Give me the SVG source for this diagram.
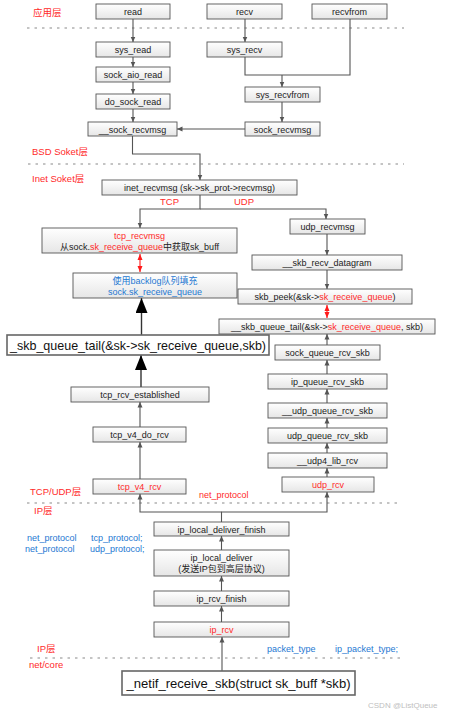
<svg xmlns="http://www.w3.org/2000/svg" width="450" height="717" viewBox="0 0 450 717">
<defs>
<linearGradient id="g" x1="0" y1="0" x2="0" y2="1">
<stop offset="0" stop-color="#ffffff"/>
<stop offset="1" stop-color="#e6e6e6"/>
</linearGradient>
<marker id="a" markerUnits="userSpaceOnUse" markerWidth="6" markerHeight="6" refX="5.5" refY="3" orient="auto"><path d="M0,0.5 L5.5,3 L0,5.5 z" fill="#555"/></marker>
<marker id="r" markerUnits="userSpaceOnUse" markerWidth="7" markerHeight="6" refX="6" refY="3" orient="auto-start-reverse"><path d="M0,0.5 L6,3 L0,5.5 z" fill="#ff1a1a"/></marker>
<marker id="b" markerUnits="userSpaceOnUse" markerWidth="16" markerHeight="12" refX="15" refY="6" orient="auto"><path d="M0,0 L15,6 L0,12 z" fill="#000"/></marker>
</defs>
<style>
.box{fill:url(#g);stroke:#555;stroke-width:0.9}
.big{fill:#fff;stroke:#666;stroke-width:1.6}
.t{font-family:"Liberation Sans","Noto Sans CJK SC",Arial,sans-serif;font-size:9px;fill:#222;text-anchor:middle}
.bt{font-family:"Liberation Sans",Arial,sans-serif;font-size:13px;fill:#111;text-anchor:middle}
.l{font-family:"Liberation Sans","Noto Sans CJK SC",Arial,sans-serif;font-size:9.5px;fill:#ff2a2a}
.n{font-family:"Liberation Sans",Arial,sans-serif;font-size:9px}
.red{fill:#ff2a2a}
.blue{fill:#1e78d2}
.c{fill:none;stroke:#555;stroke-width:1.1}
.dash{fill:none;stroke:#8a8a8a;stroke-width:1.2;stroke-dasharray:2.5 5}
</style>

<g id="layers">
<path class="dash" d="M27,28 H404"/>
<path class="dash" d="M28,164 H404"/>
<path class="dash" d="M27,503 H398"/>
<path class="dash" d="M30,658 H405"/>
<text class="l" x="33" y="16">应用层</text>
<text class="l" x="32" y="155">BSD Soket层</text>
<text class="l" x="32" y="182">Inet Soket层</text>
<text class="l" x="160" y="205">TCP</text>
<text class="l" x="234" y="205">UDP</text>
<text class="l" x="30" y="495">TCP/UDP层</text>
<text class="n red" x="199" y="497.5">net_protocol</text>
<text class="l" x="34" y="514">IP层</text>
<text class="n blue" x="27" y="541">net_protocol</text>
<text class="n blue" x="91" y="541">tcp_protocol;</text>
<text class="n blue" x="25" y="552">net_protocol</text>
<text class="n blue" x="90" y="552">udp_protocol;</text>
<text class="l" x="37" y="652">IP层</text>
<text class="n blue" x="267" y="652">packet_type</text>
<text class="n blue" x="335" y="652">ip_packet_type;</text>
<text class="l" x="29" y="668">net/core</text>
<text x="368" y="708" style="font-family:'Liberation Sans',Arial,sans-serif;font-size:8px;fill:#c0c0c0">CSDN @ListQueue</text>
</g>

<g id="connectors">
<path class="c" d="M133,19 V42" marker-end="url(#a)"/>
<path class="c" d="M245,19 V42" marker-end="url(#a)"/>
<path class="c" d="M133,57 V67" marker-end="url(#a)"/>
<path class="c" d="M133,82 V94" marker-end="url(#a)"/>
<path class="c" d="M245,57 V75 H350 V19"/>
<path class="c" d="M282,75 V87" marker-end="url(#a)"/>
<path class="c" d="M133,109 V122" marker-end="url(#a)"/>
<path class="c" d="M282,102 V122" marker-end="url(#a)"/>
<path class="c" d="M245,129 H177" marker-end="url(#a)"/>
<path class="c" d="M132.5,136 V154 H200 V180" marker-end="url(#a)"/>
<path class="c" d="M200,195 V209 H140 V228" marker-end="url(#a)"/>
<path class="c" d="M200,209 H326 V219" marker-end="url(#a)"/>
<path d="M140,254 V272" stroke="#ff1a1a" stroke-width="1.1" fill="none" marker-start="url(#r)" marker-end="url(#r)"/>
<path d="M141.5,335 V298" stroke="#333" stroke-width="1.4" fill="none" marker-end="url(#b)"/>
<path d="M141,387 V355" stroke="#333" stroke-width="1.4" fill="none" marker-end="url(#b)"/>
<path class="c" d="M140,427 V402" marker-end="url(#a)"/>
<path class="c" d="M140,479 V442" marker-end="url(#a)"/>
<path class="c" d="M327,234 V255" marker-end="url(#a)"/>
<path class="c" d="M327,270 V289" marker-end="url(#a)"/>
<path d="M327,305 V318" stroke="#ff1a1a" stroke-width="1.1" fill="none" marker-start="url(#r)" marker-end="url(#r)"/>
<path class="c" d="M327,345 V334" marker-end="url(#a)"/>
<path class="c" d="M327,374 V360" marker-end="url(#a)"/>
<path class="c" d="M327,403 V389" marker-end="url(#a)"/>
<path class="c" d="M327,428 V418" marker-end="url(#a)"/>
<path class="c" d="M327,453 V443" marker-end="url(#a)"/>
<path class="c" d="M327,477 V468" marker-end="url(#a)"/>
<path class="c" d="M221.5,522 V512 H140 V494" marker-end="url(#a)"/>
<path class="c" d="M221.5,512 H327 V492" marker-end="url(#a)"/>
<path class="c" d="M221.5,550 V536" marker-end="url(#a)"/>
<path class="c" d="M221.5,591 V576" marker-end="url(#a)"/>
<path class="c" d="M221.5,622 V606" marker-end="url(#a)"/>
<path class="c" d="M222,671 V637" marker-end="url(#a)"/>
</g>

<g id="read"><rect class="box" x="96" y="4" width="74" height="15"/><text class="t" x="133" y="15">read</text></g>
<g id="recv"><rect class="box" x="207" y="4" width="75" height="15"/><text class="t" x="244.5" y="15">recv</text></g>
<g id="recvfrom"><rect class="box" x="312" y="4" width="75" height="15"/><text class="t" x="349.5" y="15">recvfrom</text></g>
<g id="sys_read"><rect class="box" x="96" y="42" width="74" height="15"/><text class="t" x="133" y="53">sys_read</text></g>
<g id="sys_recv"><rect class="box" x="207" y="42" width="75" height="15"/><text class="t" x="244.5" y="53">sys_recv</text></g>
<g id="sock_aio_read"><rect class="box" x="96" y="67" width="74" height="15"/><text class="t" x="133" y="78">sock_aio_read</text></g>
<g id="do_sock_read"><rect class="box" x="96" y="94" width="74" height="15"/><text class="t" x="133" y="105">do_sock_read</text></g>
<g id="sys_recvfrom"><rect class="box" x="245" y="87" width="75" height="15"/><text class="t" x="282.5" y="98">sys_recvfrom</text></g>
<g id="__sock_recvmsg"><rect class="box" x="88" y="122" width="89" height="14"/><text class="t" x="132.5" y="132.5">__sock_recvmsg</text></g>
<g id="sock_recvmsg"><rect class="box" x="245" y="122" width="75" height="14"/><text class="t" x="282.5" y="132.5">sock_recvmsg</text></g>
<g id="inet_recvmsg"><rect class="box" x="102" y="180" width="195" height="15"/><text class="t" x="199.5" y="191">inet_recvmsg (sk-&gt;sk_prot-&gt;recvmsg)</text></g>
<g id="tcp_recvmsg"><rect class="box" x="42" y="228" width="195" height="25"/><text class="t" x="139.5" y="238.5"><tspan class="red">tcp_recvmsg</tspan></text><text class="t" x="139.5" y="250">从sock.<tspan class="red">sk_receive_queue</tspan>中获取sk_buff</text></g>
<g id="udp_recvmsg"><rect class="box" x="290" y="219" width="75" height="15"/><text class="t" x="327.5" y="230">udp_recvmsg</text></g>
<g id="backlog"><rect class="box" x="73" y="273" width="164" height="25"/><text class="t blue" x="155" y="283.5">使用backlog队列填充</text><text class="t blue" x="155" y="295">sock.sk_receive_queue</text></g>
<g id="__skb_recv_datagram"><rect class="box" x="252" y="255" width="150" height="15"/><text class="t" x="327" y="266">__skb_recv_datagram</text></g>
<g id="skb_peek"><rect class="box" x="238" y="289" width="174" height="15"/><text class="t" x="325" y="300">skb_peek(&amp;sk-&gt;<tspan class="red">sk_receive_queue</tspan>)</text></g>
<g id="__skb_queue_tail"><rect class="box" x="219" y="319" width="216" height="15"/><text class="t" x="327" y="330">__skb_queue_tail(&amp;sk-&gt;<tspan class="red">sk_receive_queue</tspan>, skb)</text></g>
<g id="_skb_queue_tail"><rect class="big" x="7" y="335" width="262" height="20"/><text class="bt" x="138" y="349.5" textLength="256" lengthAdjust="spacingAndGlyphs">_skb_queue_tail(&amp;sk-&gt;sk_receive_queue,skb)</text></g>
<g id="sock_queue_rcv_skb"><rect class="box" x="275" y="345" width="105" height="15"/><text class="t" x="327.5" y="356">sock_queue_rcv_skb</text></g>
<g id="tcp_rcv_established"><rect class="box" x="71" y="387" width="138" height="15"/><text class="t" x="140" y="398">tcp_rcv_established</text></g>
<g id="ip_queue_rcv_skb"><rect class="box" x="268" y="374" width="119" height="15"/><text class="t" x="327.5" y="385">ip_queue_rcv_skb</text></g>
<g id="__udp_queue_rcv_skb"><rect class="box" x="268" y="403" width="119" height="15"/><text class="t" x="327.5" y="414">__udp_queue_rcv_skb</text></g>
<g id="tcp_v4_do_rcv"><rect class="box" x="93" y="427" width="93" height="15"/><text class="t" x="139.5" y="438">tcp_v4_do_rcv</text></g>
<g id="udp_queue_rcv_skb"><rect class="box" x="268" y="428" width="119" height="15"/><text class="t" x="327.5" y="439">udp_queue_rcv_skb</text></g>
<g id="__udp4_lib_rcv"><rect class="box" x="268" y="453" width="119" height="15"/><text class="t" x="327.5" y="464">__udp4_lib_rcv</text></g>
<g id="udp_rcv"><rect class="box" x="282" y="477" width="92" height="15"/><text class="t red" x="328" y="488">udp_rcv</text></g>
<g id="tcp_v4_rcv"><rect class="box" x="93" y="479" width="93" height="15"/><text class="t red" x="139.5" y="490">tcp_v4_rcv</text></g>
<g id="ip_local_deliver_finish"><rect class="box" x="154" y="522" width="135" height="14"/><text class="t" x="221.5" y="532.5">ip_local_deliver_finish</text></g>
<g id="ip_local_deliver"><rect class="box" x="154" y="550" width="135" height="26"/><text class="t" x="221.5" y="560.5">ip_local_deliver</text><text class="t" x="221.5" y="572">(发送IP包到高层协议)</text></g>
<g id="ip_rcv_finish"><rect class="box" x="154" y="591" width="135" height="15"/><text class="t" x="221.5" y="602">ip_rcv_finish</text></g>
<g id="ip_rcv"><rect class="box" x="154" y="622" width="135" height="15"/><text class="t red" x="221.5" y="633">ip_rcv</text></g>
<g id="_netif_receive_skb"><rect class="big" x="122" y="671" width="233" height="24"/><text class="bt" x="238.5" y="687.5" textLength="224" lengthAdjust="spacingAndGlyphs">_netif_receive_skb(struct sk_buff *skb)</text></g>
</svg>
